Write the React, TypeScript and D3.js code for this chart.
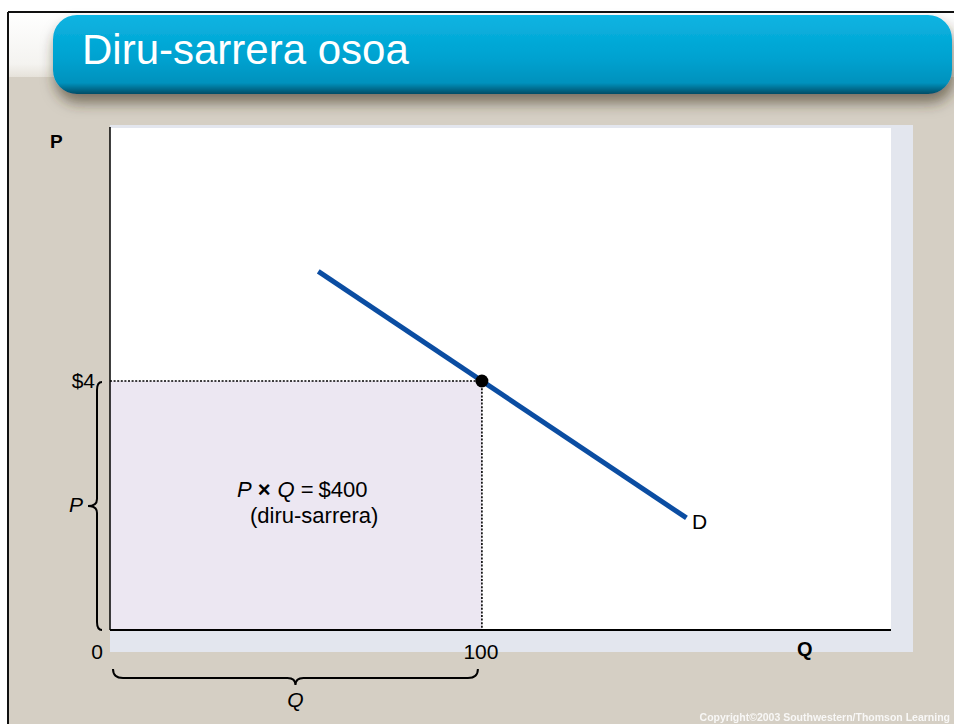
import React from 'react';
import * as d3 from 'd3';

const W = 954;
const H = 724;

// demand curve endpoints (Q, P)
const demandQ = [56, 155];
const demandP = [5.76, 1.8];

// the chosen point
const pointQ = [100];
const pointP = [4];

const xTickValues = [0, 100];
const xTickLabels = ['0', '100'];
const yTickValues = [4];
const yTickLabels = ['$4'];

const title = 'Diru-sarrera osoa';
const revenueLines = ['P × Q = $400', '(diru-sarrera)'];

const FONT = "'Liberation Sans', Arial, sans-serif";

const App = () => {
  const x = d3.scaleLinear().domain([0, 210]).range([110, 891]);
  const y = d3.scaleLinear().domain([0, 8.08]).range([630, 127]);

  const demand = demandQ.map((q, i) => [q, demandP[i]] as [number, number]);
  const line = d3
    .line<[number, number]>()
    .x((d) => x(d[0]))
    .y((d) => y(d[1]));

  const px = x(pointQ[0]);
  const py = y(pointP[0]);

  // vertical brace for P (left of the axis)
  const bx = 97;
  const bTop = y(pointP[0]) + 1;
  const bBot = y(0);
  const bMid = (bTop + bBot) / 2;
  const pBrace = d3.path();
  pBrace.moveTo(bx + 5, bTop);
  pBrace.quadraticCurveTo(bx, bTop, bx, bTop + 8);
  pBrace.lineTo(bx, bMid - 7);
  pBrace.quadraticCurveTo(bx, bMid, bx - 9, bMid);
  pBrace.quadraticCurveTo(bx, bMid, bx, bMid + 7);
  pBrace.lineTo(bx, bBot - 8);
  pBrace.quadraticCurveTo(bx, bBot, bx + 5, bBot);

  // horizontal brace for Q (below the axis)
  const by = 678;
  const qL = x(0) + 3;
  const qR = x(pointQ[0]) - 4;
  const qMid = (qL + qR) / 2;
  const qBrace = d3.path();
  qBrace.moveTo(qL, by - 9);
  qBrace.quadraticCurveTo(qL, by, qL + 10, by);
  qBrace.lineTo(qMid - 8, by);
  qBrace.quadraticCurveTo(qMid, by, qMid, by + 7);
  qBrace.quadraticCurveTo(qMid, by, qMid + 8, by);
  qBrace.lineTo(qR - 10, by);
  qBrace.quadraticCurveTo(qR, by, qR, by - 9);

  return (
    <svg
      width={W}
      height={H}
      style={{ position: 'absolute', left: 0, top: 0, display: 'block' }}
      fontFamily={FONT}
    >
      <defs>
        <linearGradient id="titleGrad" x1="0" y1="0" x2="0" y2="1">
          <stop offset="0" stopColor="#0cb4e2" />
          <stop offset="0.55" stopColor="#00a2d0" />
          <stop offset="0.86" stopColor="#0092bd" />
          <stop offset="1" stopColor="#004c66" />
        </linearGradient>
        <linearGradient id="bgGrad" x1="0" y1="0" x2="0" y2="1">
          <stop offset="0" stopColor="#ffffff" />
          <stop offset="0.8" stopColor="#f4f3f0" />
          <stop offset="1" stopColor="#e6e2da" />
        </linearGradient>
        <filter id="shadow" x="-10%" y="-30%" width="130%" height="180%">
          <feDropShadow dx="2" dy="9" stdDeviation="7" floodColor="#3d3122" floodOpacity="0.6" />
        </filter>
      </defs>

      <rect x={0} y={0} width={W} height={H} fill="#ffffff" />
      <rect x={8} y={12} width={W - 8} height={H - 12} fill="#d5cfc4" />
      <rect x={8} y={12} width={W - 8} height={65} fill="url(#bgGrad)" />
      <line x1={8} x2={W} y1={12} y2={12} stroke="#111" strokeWidth={2} />
      <line x1={8} x2={8} y1={12} y2={H} stroke="#111" strokeWidth={2} />

      {/* title bar */}
      <rect
        x={53}
        y={15}
        width={899}
        height={79}
        rx={24}
        fill="url(#titleGrad)"
        filter="url(#shadow)"
      />
      <text x={82} y={64} fontSize={42} fill="#ffffff">
        {title}
      </text>

      {/* plot panel */}
      <rect x={110} y={125} width={803} height={527} fill="#e3e6ee" />
      <rect x={110} y={128} width={781} height={502} fill="#ffffff" />

      {/* revenue rectangle */}
      <rect
        x={x(0)}
        y={py}
        width={px - x(0)}
        height={y(0) - py}
        fill="#ece7f2"
      />
      <line
        x1={x(0)}
        x2={px}
        y1={py}
        y2={py}
        stroke="#000"
        strokeWidth={1.6}
        strokeDasharray="2 1.6"
      />
      <line
        x1={px}
        x2={px}
        y1={py}
        y2={y(0)}
        stroke="#000"
        strokeWidth={1.6}
        strokeDasharray="2 1.6"
      />

      {/* axes */}
      <line x1={x(0)} x2={x(0)} y1={y.range()[1]} y2={y(0)} stroke="#000" strokeWidth={1.5} />
      <line x1={x(0)} x2={x.range()[1]} y1={y(0)} y2={y(0)} stroke="#000" strokeWidth={2} />

      {/* demand */}
      <path d={line(demand) || ''} fill="none" stroke="#0b4da2" strokeWidth={5} />
      <circle cx={px} cy={py} r={6.5} fill="#000" />

      <text x={692} y={529} fontSize={21} fill="#000">
        D
      </text>

      <text x={237} y={497} fontSize={22} fill="#000">
        <tspan fontStyle="italic">P</tspan>
        <tspan dx={6} fontWeight="bold">×</tspan>
        <tspan dx={7} fontStyle="italic">Q</tspan>
        <tspan dx={6}>=</tspan>
        <tspan dx={5}>$400</tspan>
      </text>
      <text x={250} y={523} fontSize={22} fill="#000">
        {revenueLines[1]}
      </text>

      {/* tick labels */}
      {xTickValues.map((v, i) => (
        <text
          key={`x${v}`}
          x={i === 0 ? x(v) - 13 : x(v) - 1}
          y={659}
          fontSize={21}
          textAnchor="middle"
          fill="#000"
        >
          {xTickLabels[i]}
        </text>
      ))}
      {yTickValues.map((v, i) => (
        <text key={`y${v}`} x={95} y={y(v) + 7} fontSize={21} textAnchor="end" fill="#000">
          {yTickLabels[i]}
        </text>
      ))}

      {/* axis labels */}
      <text x={50} y={148} fontSize={19} fontWeight="bold" fill="#000">
        P
      </text>
      <text x={797} y={656} fontSize={20} fontWeight="bold" fill="#000">
        Q
      </text>

      {/* braces */}
      <path d={pBrace.toString()} fill="none" stroke="#000" strokeWidth={2} />
      <text x={69} y={512} fontSize={21} fontStyle="italic" fill="#000">
        P
      </text>
      <path d={qBrace.toString()} fill="none" stroke="#000" strokeWidth={2} />
      <text x={qMid} y={707} fontSize={21} fontStyle="italic" textAnchor="middle" fill="#000">
        Q
      </text>

      <text x={950} y={721} fontSize={10.5} fontWeight="bold" textAnchor="end" fill="#ffffff" opacity={0.85}>
        Copyright©2003 Southwestern/Thomson Learning
      </text>
    </svg>
  );
};

export default App;
